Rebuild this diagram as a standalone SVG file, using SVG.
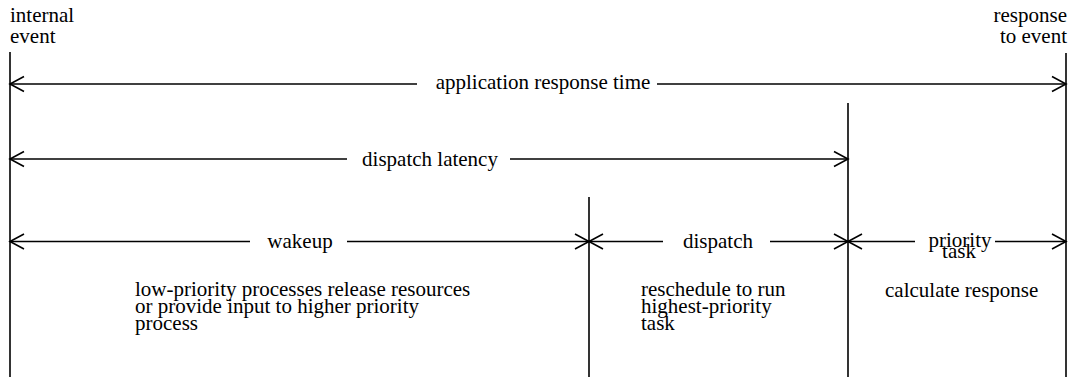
<svg xmlns="http://www.w3.org/2000/svg" width="1076" height="377" viewBox="0 0 1076 377">
  <style>
    .ln { stroke: #000; stroke-width: 1.6; fill: none; }
    .t { font-family: "Liberation Serif", "Times New Roman", serif; font-size: 21px; fill: #000; }
    .mid { text-anchor: middle; }
    .end { text-anchor: end; }
  </style>
  <defs>
    <!-- open V arrowhead; tip sits on the line end -->
    <marker id="arrow" markerUnits="userSpaceOnUse" viewBox="-16 -10 18 20" markerWidth="18" markerHeight="20" refX="0" refY="0" orient="auto-start-reverse" overflow="visible">
      <path d="M-14,-7.5 L0,0 L-14,7.5" fill="none" stroke="#000" stroke-width="1.6"/>
    </marker>
  </defs>
  <rect width="1076" height="377" fill="#fff"/>

  <!-- time markers (vertical boundaries) -->
  <g id="boundaries">
    <line class="ln" x1="10" y1="52" x2="10" y2="377"/>
    <line class="ln" x1="1066" y1="53" x2="1066" y2="377"/>
    <line class="ln" x1="589" y1="197" x2="589" y2="377"/>
    <line class="ln" x1="848" y1="103" x2="848" y2="377"/>
  </g>

  <g id="event-labels">
    <text class="t" x="10" y="22">internal</text>
    <text class="t" x="10" y="43">event</text>
    <text class="t end" x="1067" y="22">response</text>
    <text class="t end" x="1067" y="43">to event</text>
  </g>

  <!-- interval arrows -->
  <g id="connectors">
    <line class="ln" x1="10" y1="84" x2="417" y2="84" marker-start="url(#arrow)"/>
    <line class="ln" x1="657" y1="84" x2="1066" y2="84" marker-end="url(#arrow)"/>

    <line class="ln" x1="10" y1="159" x2="347" y2="159" marker-start="url(#arrow)"/>
    <line class="ln" x1="510" y1="159" x2="848" y2="159" marker-end="url(#arrow)"/>

    <line class="ln" x1="10" y1="241.5" x2="250" y2="241.5" marker-start="url(#arrow)"/>
    <line class="ln" x1="347" y1="241.5" x2="589" y2="241.5" marker-end="url(#arrow)"/>

    <line class="ln" x1="589" y1="241.5" x2="663" y2="241.5" marker-start="url(#arrow)"/>
    <line class="ln" x1="770" y1="241.5" x2="848" y2="241.5" marker-end="url(#arrow)"/>

    <line class="ln" x1="848" y1="241.5" x2="915" y2="241.5" marker-start="url(#arrow)"/>
    <line class="ln" x1="995" y1="241.5" x2="1066" y2="241.5" marker-end="url(#arrow)"/>
  </g>

  <g id="application-response-time">
    <text class="t mid" x="543" y="89">application response time</text>
  </g>
  <g id="dispatch-latency">
    <text class="t mid" x="430" y="166">dispatch latency</text>
  </g>
  <g id="wakeup">
    <text class="t mid" x="300" y="248">wakeup</text>
    <text class="t" x="135" y="296">low-priority processes release resources</text>
    <text class="t" x="135" y="313">or provide input to higher priority</text>
    <text class="t" x="135" y="330">process</text>
  </g>
  <g id="dispatch">
    <text class="t mid" x="718" y="248">dispatch</text>
    <text class="t" x="641" y="296">reschedule to run</text>
    <text class="t" x="641" y="313">highest-priority</text>
    <text class="t" x="641" y="330">task</text>
  </g>
  <g id="priority-task">
    <text class="t mid" x="960" y="247">priority</text>
    <text class="t mid" x="959" y="258">task</text>
    <text class="t" x="885" y="297">calculate response</text>
  </g>
</svg>
